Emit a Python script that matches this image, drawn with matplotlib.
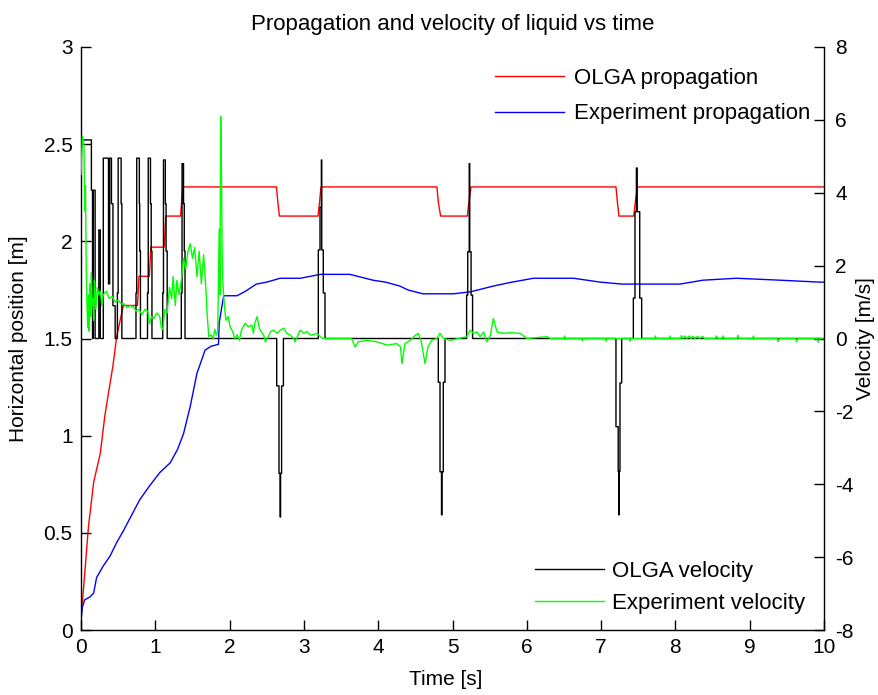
"""
Liquid propagation (left axis) and velocity (right axis) against time,
OLGA simulation vs experiment.
"""

import matplotlib
matplotlib.use('Agg')
import matplotlib.pyplot as plt
import numpy as np

plt.rcParams['font.family'] = ['Liberation Sans', 'DejaVu Sans']
plt.rcParams['font.size'] = 15
plt.rcParams['axes.unicode_minus'] = False

# --- OLGA propagation [m] (left axis), step-like
olga_prop = [
    (0.00, 0.10), (0.02, 0.15), (0.05, 0.29), (0.10, 0.53), (0.17, 0.76),
    (0.26, 0.91), (0.32, 1.10), (0.37, 1.22), (0.43, 1.36), (0.48, 1.51),
    (0.57, 1.67), (0.76, 1.67), (0.78, 1.82), (0.92, 1.82), (0.94, 1.97),
    (1.12, 1.97), (1.14, 2.13), (1.34, 2.13), (1.37, 2.28), (2.63, 2.28),
    (2.65, 2.20), (2.67, 2.13), (3.19, 2.13), (3.21, 2.20), (3.23, 2.28),
    (4.79, 2.28), (4.81, 2.20), (4.84, 2.13), (5.20, 2.13), (5.22, 2.20),
    (5.25, 2.28), (7.20, 2.28), (7.22, 2.20), (7.24, 2.13), (7.44, 2.13),
    (7.46, 2.20), (7.49, 2.28), (10.0, 2.28),
]

# --- experiment propagation [m] (left axis)
exp_prop = [
    (0.00, 0.05), (0.02, 0.12), (0.05, 0.155), (0.12, 0.17), (0.17, 0.19),
    (0.21, 0.27), (0.30, 0.33), (0.39, 0.38), (0.48, 0.45), (0.57, 0.51),
    (0.68, 0.59), (0.79, 0.67), (0.92, 0.74), (1.06, 0.81), (1.20, 0.86),
    (1.30, 0.93), (1.38, 1.01), (1.47, 1.15), (1.56, 1.32), (1.67, 1.44),
    (1.75, 1.46), (1.85, 1.47), (1.86, 1.58), (1.92, 1.72), (2.10, 1.72),
    (2.20, 1.74), (2.36, 1.78), (2.50, 1.79), (2.68, 1.81), (2.95, 1.81),
    (3.22, 1.83), (3.62, 1.83), (3.93, 1.80), (4.10, 1.79), (4.29, 1.77),
    (4.40, 1.75), (4.60, 1.73), (5.01, 1.73), (5.24, 1.74), (5.55, 1.77),
    (5.80, 1.79), (6.09, 1.81), (6.63, 1.81), (6.99, 1.79), (7.28, 1.78),
    (8.06, 1.78), (8.37, 1.80), (8.82, 1.81), (9.41, 1.80), (9.95, 1.79),
    (10.0, 1.79),
]

# --- OLGA velocity [m/s] (right axis), stair-stepped output
olga_vel = [
    # start-up pulses
    (0.000, 0.0), (0.005, 5.45), (0.140, 5.45), (0.140, 4.07), (0.155, 4.07),
    (0.155, 0.0), (0.166, 0.0), (0.166, 4.07), (0.190, 4.07), (0.190, 0.0),
    (0.240, 0.0), (0.240, 2.98), (0.260, 2.98), (0.260, 0.0), (0.300, 0.0),
    (0.300, 4.95), (0.370, 4.95), (0.370, 1.5), (0.386, 1.5), (0.386, 4.95),
    (0.410, 4.95), (0.410, 3.7), (0.430, 3.7), (0.430, 0.9), (0.460, 0.9),
    (0.460, 0.0), (0.490, 0.0), (0.490, 1.25), (0.500, 1.25), (0.500, 4.95),
    (0.540, 4.95), (0.540, 3.7), (0.550, 3.7), (0.550, 0.0),
    (0.740, 0.0), (0.740, 1.25), (0.750, 1.25), (0.750, 4.95), (0.785, 4.95),
    (0.785, 3.7), (0.790, 3.7), (0.790, 2.4), (0.800, 2.4), (0.800, 0.0),
    (0.895, 0.0), (0.895, 1.25), (0.905, 1.25), (0.905, 4.95), (0.935, 4.95),
    (0.935, 3.7), (0.945, 3.7), (0.945, 2.4), (0.955, 2.4), (0.955, 0.0),
    (1.100, 0.0), (1.100, 1.25), (1.110, 1.25), (1.110, 4.9), (1.135, 4.9),
    (1.135, 3.7), (1.145, 3.7), (1.145, 2.4), (1.160, 2.4), (1.160, 0.0),
    (1.350, 0.0), (1.350, 1.25), (1.360, 1.25), (1.360, 4.8), (1.380, 4.8),
    (1.380, 3.7), (1.390, 3.7), (1.390, 2.4), (1.400, 2.4), (1.400, 0.0),
    # spike near 2.7 s
    (2.634, 0.0), (2.634, -1.3), (2.665, -1.3), (2.665, -3.7), (2.680, -3.7),
    (2.680, -4.9), (2.686, -4.9), (2.686, -3.7), (2.700, -3.7), (2.700, -1.3),
    (2.724, -1.3), (2.724, 0.0),
    # spike near 3.2 s
    (3.194, 0.0), (3.194, 2.43), (3.217, 2.43), (3.217, 3.6), (3.235, 3.6),
    (3.235, 4.9), (3.240, 4.9), (3.240, 2.43), (3.261, 2.43), (3.261, 1.25),
    (3.284, 1.25), (3.284, 0.0),
    # spike near 4.85 s
    (4.809, 0.0), (4.809, -1.2), (4.832, -1.2), (4.832, -3.66), (4.852, -3.66),
    (4.852, -4.84), (4.858, -4.84), (4.858, -3.66), (4.876, -3.66), (4.876, -1.2),
    (4.899, -1.2), (4.899, 0.0),
    # spike near 5.23 s
    (5.190, 0.0), (5.190, 1.19), (5.205, 1.19), (5.205, 2.38), (5.225, 2.38),
    (5.225, 4.8), (5.232, 4.8), (5.232, 2.38), (5.250, 2.38), (5.250, 1.19),
    (5.270, 1.19), (5.270, 0.0),
    # spike near 7.23 s
    (7.200, 0.0), (7.200, -2.42), (7.230, -2.42), (7.230, -3.65), (7.240, -3.65),
    (7.240, -4.84), (7.245, -4.84), (7.245, -3.65), (7.254, -3.65), (7.254, -1.22),
    (7.277, -1.22), (7.277, 0.0),
    # spike near 7.48 s
    (7.434, 0.0), (7.434, 1.11), (7.456, 1.11), (7.456, 3.48), (7.475, 3.48),
    (7.475, 4.68), (7.485, 4.68), (7.485, 3.48), (7.520, 3.48), (7.520, 1.11),
    (7.546, 1.11), (7.546, 0.0),
    (10.0, 0.0),
]

# --- experiment velocity [m/s] (right axis)
exp_vel = [
    (0.00, 4.5), (0.02, 5.55), (0.04, 5.3), (0.05, 3.5), (0.06, 4.2),
    (0.07, 2.0), (0.08, 1.0), (0.09, 0.3), (0.10, 1.2), (0.11, 0.2),
    (0.12, 1.5), (0.13, 0.6), (0.14, 1.8), (0.15, 0.9), (0.16, 1.1),
    (0.17, 0.5), (0.18, 1.6), (0.19, 1.3), (0.20, 0.8), (0.22, 1.4),
    (0.24, 1.2), (0.26, 1.3), (0.28, 0.9), (0.30, 1.2), (0.34, 1.3),
    (0.38, 1.1), (0.42, 1.15), (0.46, 1.0), (0.50, 1.05), (0.54, 0.95),
    (0.58, 0.95), (0.62, 0.85), (0.66, 0.9), (0.70, 0.88), (0.74, 0.75),
    (0.78, 0.8), (0.82, 0.65), (0.86, 0.8), (0.90, 0.75), (0.92, 0.4),
    (0.95, 0.6), (0.98, 0.55), (1.02, 0.7), (1.06, 0.6), (1.08, 0.3),
    (1.10, 0.25), (1.13, 0.8), (1.16, 0.7), (1.19, 1.4), (1.22, 1.1),
    (1.24, 1.7), (1.27, 0.9), (1.29, 1.6), (1.32, 1.2), (1.35, 1.6),
    (1.38, 2.2), (1.41, 1.9), (1.44, 2.4), (1.47, 2.6), (1.50, 2.2),
    (1.53, 2.5), (1.56, 1.7), (1.59, 2.4), (1.62, 1.5), (1.65, 2.3),
    (1.68, 1.4), (1.70, 0.6), (1.72, 0.05), (1.75, 0.1), (1.78, 0.0),
    (1.80, 0.25), (1.82, 0.1), (1.84, 0.2), (1.86, 3.0), (1.87, 1.2),
    (1.88, 6.1), (1.89, 4.7), (1.90, 2.3), (1.91, 1.5), (1.93, 0.9),
    (1.95, 0.5), (1.98, 0.6), (2.01, 0.3), (2.04, 0.2), (2.07, 0.0),
    (2.10, 0.1), (2.13, -0.05), (2.16, 0.23), (2.21, 0.42), (2.25, 0.32),
    (2.30, 0.37), (2.32, 0.14), (2.34, 0.42), (2.37, 0.6), (2.39, 0.37),
    (2.41, 0.23), (2.46, 0.09), (2.48, -0.09), (2.52, 0.05), (2.55, 0.19),
    (2.59, 0.23), (2.64, 0.14), (2.68, 0.23), (2.73, 0.28), (2.77, 0.14),
    (2.82, 0.09), (2.86, 0.0), (2.88, -0.09), (2.93, 0.14), (2.95, 0.23),
    (3.00, 0.14), (3.04, 0.19), (3.09, 0.09), (3.18, 0.14), (3.22, 0.05),
    (3.25, 0.0), (3.64, 0.0), (3.69, -0.23), (3.73, -0.09), (3.85, -0.05),
    (3.98, -0.09), (4.12, -0.18), (4.25, -0.14), (4.30, -0.23), (4.32, -0.69),
    (4.36, -0.14), (4.43, -0.05), (4.50, 0.09), (4.54, 0.14), (4.58, -0.09),
    (4.63, -0.69), (4.67, -0.23), (4.72, -0.05), (4.79, 0.0), (4.83, 0.14),
    (4.88, 0.0), (4.97, -0.05), (5.19, 0.05), (5.24, 0.23), (5.28, 0.14),
    (5.33, 0.18), (5.37, 0.05), (5.42, 0.18), (5.46, -0.09), (5.51, 0.09),
    (5.55, 0.55), (5.60, 0.18), (5.69, 0.14), (5.78, 0.16), (5.91, 0.14),
    (6.00, 0.0), (6.27, 0.05), (6.32, 0.0), (6.50, 0.0), (6.51, 0.07),
    (6.52, 0.0), (6.74, 0.0), (6.75, -0.07), (6.76, 0.0), (7.06, 0.0),
    (7.07, -0.08), (7.08, 0.0), (7.38, 0.0), (7.39, -0.08), (7.40, 0.0),
    (7.72, 0.0), (7.73, 0.07), (7.74, 0.0), (7.92, 0.0), (7.93, 0.07),
    (7.94, 0.0), (8.07, 0.0), (8.08, 0.08), (8.10, 0.0), (8.13, 0.07),
    (8.15, 0.0), (8.19, 0.07), (8.21, 0.0), (8.24, 0.06), (8.26, 0.0),
    (8.30, 0.06), (8.32, 0.0), (8.37, 0.06), (8.39, 0.0), (8.54, 0.0),
    (8.55, 0.07), (8.57, 0.0), (8.63, 0.0), (8.64, 0.07), (8.66, 0.0),
    (8.83, 0.0), (8.84, 0.09), (8.86, 0.0), (9.04, 0.0), (9.05, 0.07),
    (9.06, 0.0), (9.37, 0.0), (9.38, -0.09), (9.40, 0.0), (9.62, 0.0),
    (9.63, -0.09), (9.65, 0.0), (9.91, 0.0), (9.92, -0.1), (9.94, 0.0),
    (10.0, 0.0),
]

left_ticks = [0, 0.5, 1, 1.5, 2, 2.5, 3]
left_ticklabels = ['0', '0.5', '1', '1.5', '2', '2.5', '3']
right_ticks = [-8, -6, -4, -2, 0, 2, 4, 6, 8]
x_ticks = list(range(0, 11))

fig = plt.figure(figsize=(8.79, 6.95), dpi=100)
ax1 = fig.add_axes([81 / 879, 65 / 695, 743 / 879, 583 / 695])
ax2 = ax1.twinx()

t_op, v_op = np.array(olga_prop).T
t_ep, v_ep = np.array(exp_prop).T
t_ov, v_ov = np.array(olga_vel).T
t_ev, v_ev = np.array(exp_vel).T

l1, = ax1.plot(t_op, v_op, color='#ff0000', lw=1.0, label='OLGA propagation')
l2, = ax1.plot(t_ep, v_ep, color='#0000ff', lw=1.0, label='Experiment propagation')
l3, = ax2.plot(t_ov, v_ov, color='black', lw=1.0, label='OLGA velocity')
l4, = ax2.plot(t_ev, v_ev, color='#00ff00', lw=1.0, label='Experiment velocity')

ax1.set_xlim(0, 10)
ax1.set_ylim(0, 3)
ax2.set_ylim(-8, 8)

ax1.set_xticks(x_ticks)
ax1.set_yticks(left_ticks)
ax1.set_yticklabels(left_ticklabels)
ax2.set_yticks(right_ticks)

for ax in (ax1, ax2):
    ax.spines['top'].set_visible(False)
    for s in ax.spines.values():
        s.set_linewidth(1.0)
ax1.spines['right'].set_visible(False)
ax2.spines['left'].set_visible(False)
ax2.spines['bottom'].set_visible(False)

ax1.tick_params(axis='both', direction='in', length=7, width=1.0,
                labelsize=15, pad=6)
ax1.tick_params(axis='y', right=False)
ax2.tick_params(axis='y', direction='in', length=7, width=1.0,
                labelsize=15, pad=8, left=False, right=True)

ax1.set_title('Propagation and velocity of liquid vs time', fontsize=16, pad=12)
ax1.set_xlabel('Time [s]', fontsize=15)
ax1.xaxis.set_label_coords(0.4906, -0.068)
ax1.set_ylabel('Horizontal position [m]', fontsize=15, labelpad=11)
ax2.set_ylabel('Velocity [m/s]', fontsize=15, labelpad=2)

ax1.legend(handles=[l1, l2], loc='upper left', frameon=False, fontsize=16,
           bbox_to_anchor=(495 / 879, 1 - 68 / 695), bbox_transform=fig.transFigure,
           borderaxespad=0, borderpad=0, handlelength=3.1, handletextpad=0.45,
           labelspacing=0.65)
ax2.legend(handles=[l3, l4], loc='upper left', frameon=False, fontsize=16,
           bbox_to_anchor=(535 / 879, 1 - 561 / 695), bbox_transform=fig.transFigure,
           borderaxespad=0, borderpad=0, handlelength=3.1, handletextpad=0.35,
           labelspacing=0.5)

fig.savefig('out.png', dpi=100)
